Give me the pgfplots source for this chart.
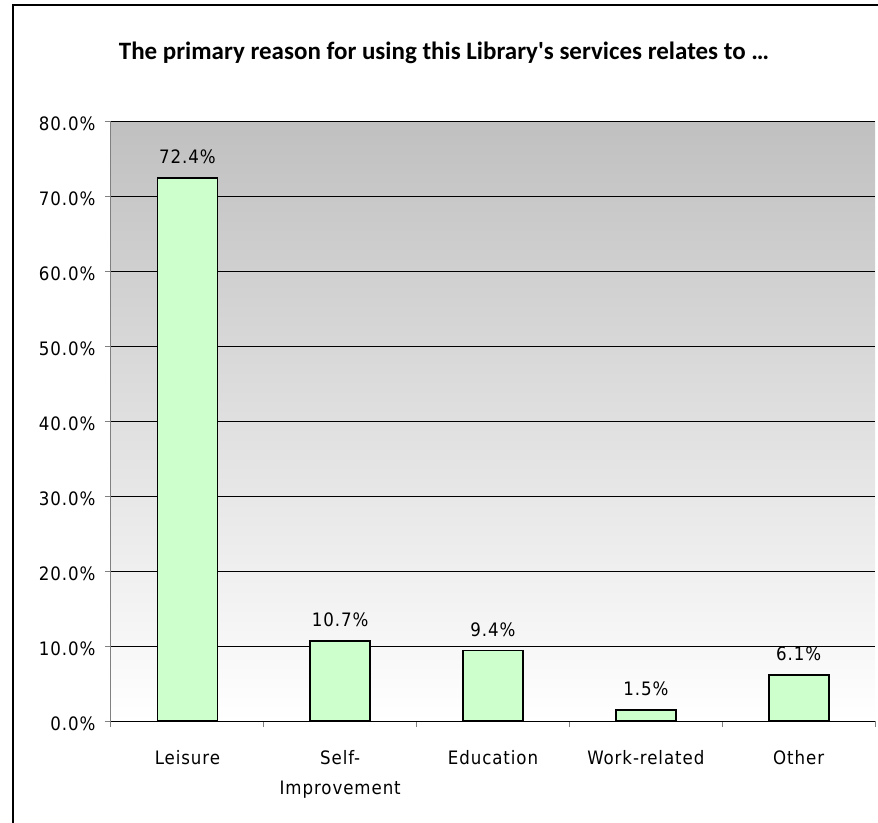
\documentclass[border=0pt]{standalone}
\usepackage{pgfplots}
\pgfplotsset{compat=1.18}
\usepackage{fontspec}
\setmainfont{DejaVu Sans Condensed}[LetterSpace=5]
\newfontfamily\titlefont{Carlito}
\definecolor{barfill}{HTML}{CCFFCC}
\definecolor{topgray}{HTML}{C0C0C0}
\begin{document}
\begin{tikzpicture}[x=1pt,y=1pt]
\useasboundingbox (0,0) rectangle (878,-822);
\draw[line width=2.5pt] (13,-830) -- (13,-5) -- (890,-5);
\node[font=\titlefont\bfseries\fontsize{25}{28}\selectfont] at (444,-53) {The primary reason for using this Library's services relates to \dots};
\begin{axis}[
  scale only axis,
  width=764pt, height=600pt,
  at={(111pt,-721pt)}, anchor=south west,
  xmin=0, xmax=5, ymin=0, ymax=80,
  axis background/.style={top color=topgray, bottom color=white},
  axis x line*=bottom, axis y line*=left,
  axis line style={draw=gray, line width=1pt},
  x axis line style={draw=black},
  xtick={0.5,1.5,2.5,3.5,4.5},
  xticklabels={Leisure,{Self-\\Improvement},Education,Work-related,Other},
  minor xtick={0,1,2,3,4,5},
  major x tick style={draw=none},
  minor x tick style={draw=gray, line width=1pt},
  tick align=outside,
  minor tick length=6pt,
  major tick length=6pt,
  ytick={0,10,...,80},
  ymajorgrids,
  major grid style={draw=black, line width=0.8pt},
  y tick style={draw=gray, line width=1pt},
  yticklabel={\pgfmathprintnumber[fixed,fixed zerofill,precision=1]{\tick}\%},
  yticklabel style={font=\fontsize{18.5}{20}\selectfont, xshift=-6pt, yshift=-3pt},
  xticklabel style={font=\fontsize{18.5}{30}\selectfont, align=center, yshift=-20pt, text depth=0pt},
  /pgf/number format/assume math mode=true,
  ybar, bar width=60pt,
  nodes near coords={\pgfmathprintnumber[fixed,fixed zerofill,precision=1]{\pgfplotspointmeta}\%},
  every node near coord/.append style={font=\fontsize{18.5}{20}\selectfont, yshift=10pt},
  clip=false,
]
\addplot[fill=barfill, draw=black, line width=1.8pt] coordinates {(0.5,72.4) (1.5,10.7) (2.5,9.4) (3.5,1.5) (4.5,6.1)};
\end{axis}
\end{tikzpicture}
\end{document}
